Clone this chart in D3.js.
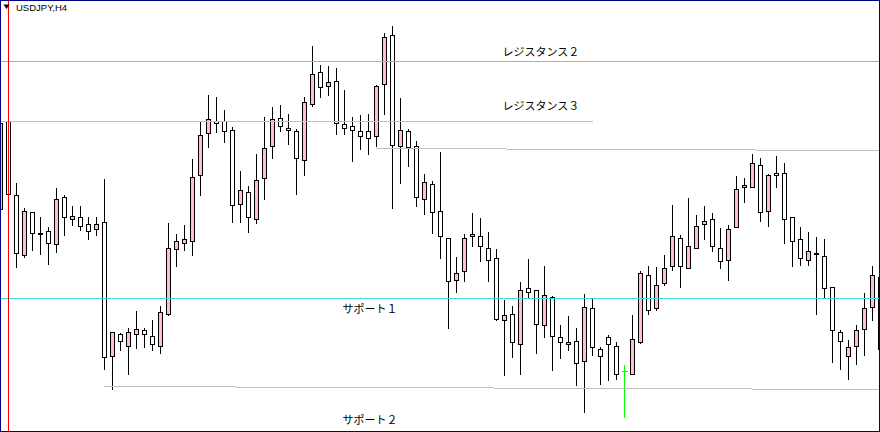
<!DOCTYPE html>
<html><head><meta charset="utf-8">
<script src="https://cdn.jsdelivr.net/npm/d3@7"></script>
<style>html,body{margin:0;padding:0;background:#fff;overflow:hidden}</style>
</head><body><svg id="c" width="880" height="432"></svg>
<script>
const symbolLabel = "USDJPY,H4";
const opens = [109.91,110.79,110.05,109.45,109.88,109.67,109.69,109.56,110.03,109.81,109.83,109.76,109.71,109.78,108.44,108.66,108.54,108.66,108.70,108.64,
108.54,108.86,109.51,109.57,109.59,110.25,110.67,110.79,110.79,110.70,109.96,110.08,109.81,110.22,110.54,110.82,110.72,110.69,110.40,110.96,
111.28,111.14,111.19,110.76,110.74,110.69,110.69,110.64,111.16,111.65,110.54,110.69,110.54,110.01,110.16,109.89,109.62,109.20,109.29,109.64,
109.64,109.52,109.42,108.80,108.86,108.56,109.12,109.10,108.75,109.03,108.63,108.56,108.59,108.39,108.92,108.51,108.63,108.54,108.29,108.26,
108.58,109.25,108.92,109.17,109.34,109.62,109.32,109.52,109.76,109.81,109.52,109.40,109.73,110.13,110.13,110.35,109.89,110.27,110.27,109.83,
109.61,109.40,109.47,109.44,109.13,108.68,108.44,108.54,108.71,108.93,109.23];
const highs = [110.80,110.80,110.18,109.93,109.89,109.84,109.74,110.13,110.06,109.95,109.95,109.84,109.84,110.22,108.69,108.68,108.73,108.90,108.73,108.81,
108.95,109.78,109.67,109.76,110.42,110.79,111.06,111.04,110.91,110.74,110.30,110.15,110.47,110.84,110.94,110.96,110.87,110.72,111.04,111.55,
111.36,111.35,111.33,111.11,110.84,110.86,110.87,111.16,111.68,111.75,111.03,110.72,110.60,110.27,110.20,110.49,109.62,109.44,109.67,109.88,
109.83,109.69,109.52,109.01,108.95,109.19,109.42,109.10,109.35,109.05,108.76,108.85,108.73,109.07,109.03,108.54,108.66,108.59,108.36,108.86,
109.30,109.35,109.34,109.46,109.96,109.66,110.03,109.86,109.95,109.88,109.73,109.76,110.25,110.23,110.47,110.43,110.27,110.45,110.38,109.83,
109.74,109.69,109.64,109.62,109.13,108.71,108.61,108.76,109.08,109.35,109.30];
const lows = [109.88,110.05,109.33,109.43,109.50,109.46,109.36,109.48,109.65,109.75,109.70,109.61,109.65,108.31,108.11,108.50,108.26,108.52,108.53,108.50,
108.47,108.85,109.34,109.50,109.45,110.05,110.53,110.68,110.58,109.78,109.78,109.68,109.77,110.01,110.42,110.69,110.56,110.06,110.25,110.94,
111.03,111.05,110.66,110.66,110.39,110.51,110.46,110.54,110.86,109.92,110.17,110.34,109.94,109.86,109.67,109.42,108.72,109.08,109.19,109.54,
109.39,109.19,108.80,108.25,108.43,108.26,109.03,108.47,108.63,108.30,108.42,108.50,108.15,107.88,108.45,108.16,108.20,108.21,107.83,108.26,
108.57,108.86,108.90,109.15,109.30,109.13,109.32,109.52,109.61,109.49,109.32,109.20,109.73,109.98,110.13,109.79,109.74,110.13,109.57,109.34,
109.35,109.35,108.86,109.03,108.38,108.31,108.21,108.36,108.45,108.80,108.48];
const closes = [110.77,110.06,109.47,109.89,109.67,109.66,109.57,110.01,109.83,109.84,109.74,109.69,109.76,108.43,108.68,108.59,108.68,108.71,108.66,108.56,
108.88,109.52,109.59,109.61,110.23,110.65,110.81,110.77,110.69,109.95,110.10,109.83,110.20,110.52,110.81,110.74,110.70,110.42,110.98,111.26,
111.13,111.18,110.77,110.72,110.70,110.64,110.62,111.14,111.63,110.55,110.70,110.53,110.03,110.18,109.88,109.64,109.19,109.27,109.62,109.66,
109.54,109.40,108.81,108.85,108.58,109.10,109.08,108.76,109.05,108.64,108.58,108.58,108.37,108.93,108.53,108.44,108.56,108.26,108.29,108.61,
109.27,108.90,109.15,109.32,109.64,109.34,109.54,109.74,109.79,109.54,109.39,109.71,110.11,110.15,110.37,109.88,110.25,110.25,109.81,109.59,
109.42,109.49,109.46,109.12,108.70,108.59,108.53,108.70,108.92,109.25,108.51];
const highlightedBar = 78;
const markerBar = 1;
const levelNames = ["レジスタンス２", "レジスタンス３", "", "サポート１", "サポート２"];
const levelStartBar = [0, 0, 47, 0, 13];
const levelEndBar = [110, 74, 110, 110, 110];
const levelStartPrice = [111.39, 110.79, 110.52, 109.02, 108.14];
const levelEndPrice = [111.39, 110.79, 110.50, 109.02, 108.115];

const W = 880, H = 432;
const svg = d3.select("#c");
svg.append("rect").attr("width", W).attr("height", H).attr("fill", "#fff");
const x = d3.scaleLinear().domain([0, 110]).range([0.5, 880.5]);
const y = d3.scaleLinear().domain([112, 107.68]).range([0.5, 432.5]);
const Y = p => Math.round(y(p) - 0.5) + 0.5;

const bars = d3.range(opens.length).map(i => ({i, o: opens[i], h: highs[i], l: lows[i], c: closes[i]}));
const g = svg.append("g").attr("shape-rendering", "crispEdges");
const normal = bars.filter(d => d.i !== highlightedBar);
g.selectAll("line.wick").data(normal).join("line").attr("class", "wick")
  .attr("x1", d => x(d.i)).attr("x2", d => x(d.i))
  .attr("y1", d => Y(d.h)).attr("y2", d => Y(d.l))
  .attr("stroke", "#000").attr("stroke-width", 1);
g.selectAll("rect.body").data(normal).join("rect").attr("class", "body")
  .attr("x", d => x(d.i) - 2).attr("width", 4)
  .attr("y", d => Math.min(Y(d.o), Y(d.c)))
  .attr("height", d => Math.max(1, Math.abs(Y(d.o) - Y(d.c))))
  .attr("fill", d => d.c > d.o ? "#FFC0CB" : "#FFFFFF")
  .attr("stroke", "#000").attr("stroke-width", 1);
const hb = bars[highlightedBar];
g.append("line").attr("x1", x(hb.i)).attr("x2", x(hb.i)).attr("y1", Y(hb.h)).attr("y2", Y(hb.l))
  .attr("stroke", "#00FF00");
g.append("line").attr("x1", x(hb.i) - 2.5).attr("x2", x(hb.i) + 3).attr("y1", Y(hb.o)).attr("y2", Y(hb.o))
  .attr("stroke", "#00FF00");

const levelColors = ["#40E0D0", "#C0C0C0", "#C0C0C0", "#40E0D0", "#C0C0C0"];
levelNames.forEach((n, k) => {
  const x1 = levelStartBar[k] === 0 ? 0 : x(levelStartBar[k]);
  const x2 = levelEndBar[k] === 110 ? W : x(levelEndBar[k]);
  g.append("line").attr("x1", x1).attr("x2", x2)
    .attr("y1", Y(levelStartPrice[k])).attr("y2", Y(levelEndPrice[k]))
    .attr("stroke", levelColors[k]).attr("stroke-width", 1);
});

const labelPos = [[502.5, 56], [502.5, 110], null, [342.5, 313], [342.5, 424]];
levelNames.forEach((n, k) => {
  if (!n) return;
  svg.append("text").attr("x", labelPos[k][0]).attr("y", labelPos[k][1])
    .attr("font-family", "'Noto Sans CJK JP', sans-serif").attr("font-size", 11)
    .attr("fill", "#000").text(n);
});

g.append("line").attr("x1", x(markerBar)).attr("x2", x(markerBar)).attr("y1", 0).attr("y2", H)
  .attr("stroke", "#FF0000").attr("stroke-width", 1);

svg.append("path").attr("d", "M3.5,4.5 L9.5,4.5 L6.5,9 Z").attr("fill", "#000");
svg.append("text").attr("x", 16).attr("y", 11)
  .attr("font-family", "'Liberation Sans', Arial, sans-serif").attr("font-size", 9.5)
  .attr("fill", "#000").text(symbolLabel);

svg.append("rect").attr("x", 0.5).attr("y", 0.5).attr("width", W - 1).attr("height", H - 1)
  .attr("fill", "none").attr("stroke", "#000080").attr("stroke-width", 1).attr("shape-rendering", "crispEdges");
</script></body></html>
